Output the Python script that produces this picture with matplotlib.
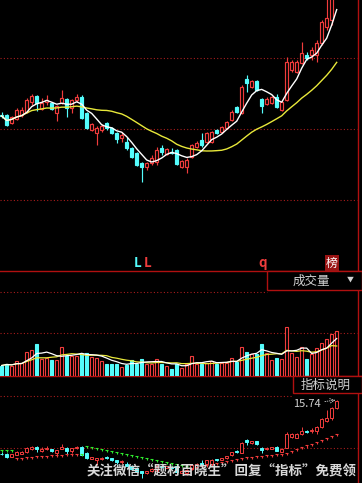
import matplotlib
matplotlib.use('Agg')
import matplotlib.pyplot as plt
import numpy as np
import pandas as pd
from matplotlib.patches import Rectangle

plt.rcParams['font.family'] = ['Noto Sans CJK SC', 'DejaVu Sans']

# daily candles
opens = [18.5, 18.5, 17.7, 18.1, 18.5, 18.8, 19.8, 20.4, 19.1, 19.8,
         19.7, 18.7, 19.7, 20.1, 19.2, 20.0, 20.3, 18.7, 17.0, 16.7,
         17.0, 17.7, 17.2, 16.7, 16.2, 15.8, 15.2, 14.7, 13.7, 13.3,
         13.7, 13.8, 15.2, 14.6, 14.8, 15.0, 13.3, 13.3, 14.3, 15.3,
         16.0, 15.8, 15.8, 17.0, 16.8, 17.2, 18.0, 19.3, 18.7, 22.1,
         21.3, 21.9, 20.1, 19.6, 19.7, 20.3, 19.0, 20.0, 23.0, 22.8,
         23.7, 24.5, 24.5, 24.5, 25.7, 27.3, 28.0, 30.8]
closes = [18.4, 17.5, 18.3, 19.0, 19.0, 20.0, 20.4, 19.7, 19.7, 20.0,
          19.1, 19.4, 20.2, 19.2, 20.0, 20.3, 18.2, 17.2, 17.6, 17.2,
          17.4, 17.2, 16.7, 16.1, 16.5, 15.2, 14.3, 13.5, 13.3, 13.7,
          14.2, 15.0, 14.8, 15.1, 14.7, 13.6, 13.9, 14.0, 15.5, 15.7,
          15.5, 16.7, 16.8, 16.7, 17.3, 17.8, 18.8, 18.8, 21.3, 21.7,
          21.9, 21.0, 19.4, 20.1, 20.3, 19.3, 19.8, 23.8, 23.8, 23.8,
          24.7, 24.2, 25.0, 25.7, 27.8, 28.2, 30.8, 32.7]
highs = [18.8, 18.6, 18.4, 19.2, 19.3, 20.2, 20.6, 20.5, 20.2, 20.5,
         19.8, 19.5, 21.0, 20.2, 20.1, 20.6, 20.5, 18.8, 17.7, 17.4,
         17.6, 17.8, 17.3, 16.8, 16.8, 16.3, 15.3, 14.8, 13.8, 13.8,
         14.5, 15.3, 15.5, 15.2, 15.2, 15.1, 14.0, 14.2, 15.6, 15.9,
         16.7, 16.8, 16.9, 17.1, 17.4, 17.9, 19.0, 19.4, 21.5, 22.5,
         22.0, 22.0, 20.2, 20.3, 20.4, 20.6, 20.0, 24.3, 24.0, 24.0,
         25.8, 24.8, 25.3, 26.0, 28.0, 30.2, 31.0, 33.0]
lows = [18.2, 17.4, 17.6, 18.0, 18.3, 18.7, 19.5, 18.9, 19.0, 19.5,
        19.0, 17.9, 19.6, 18.3, 18.7, 19.8, 18.1, 17.1, 16.9, 15.5,
        16.8, 17.0, 16.6, 15.7, 15.8, 15.0, 14.2, 13.4, 11.8, 13.0,
        13.5, 13.5, 14.5, 14.5, 14.6, 13.5, 13.2, 12.7, 14.2, 15.2,
        15.3, 15.7, 15.7, 16.6, 16.7, 17.1, 17.9, 18.7, 18.6, 20.8,
        21.2, 20.9, 18.7, 19.5, 19.6, 19.2, 18.9, 19.9, 22.8, 22.7,
        23.6, 24.0, 24.0, 23.8, 25.5, 27.0, 27.5, 30.5]
volumes = [10, 12, 10, 15, 13, 24, 26, 32, 17, 18,
           16, 16, 29, 20, 20, 20, 22, 23, 19, 18,
           15, 12, 12, 12, 9, 11, 16, 12, 17, 12,
           12, 17, 12, 10, 7, 12, 8, 12, 20, 12,
           12, 13, 15, 12, 13, 13, 18, 14, 29, 24,
           22, 22, 32, 23, 16, 18, 17, 49, 23, 19,
           29, 17, 22, 28, 33, 37, 42, 45]
# trailing stop of the lower indicator
stops = [19.46, 19.46, 19.46,
         17.30, 17.43, 17.57, 17.70, 17.84, 17.84, 17.97, 18.11, 18.11, 18.24,
         18.38, 18.38, 18.51, 18.51,
         20.54, 20.27, 20.00, 19.73, 19.46, 19.19, 18.92, 18.65, 18.38, 18.11,
         17.84, 17.57, 17.30, 17.03, 16.76, 16.49, 16.22, 15.95, 15.68, 15.41,
         15.14,
         14.59, 14.86, 15.14, 15.41, 15.68, 15.95, 16.22, 16.49, 16.76, 17.03,
         17.30, 17.57, 17.70, 17.84, 17.97, 18.11, 18.24, 18.38, 18.51, 18.65,
         19.19, 19.73, 20.27, 20.68, 21.08, 21.62, 22.16, 22.70, 23.24, 23.78]
max_label = '15.74'

RED = '#f03c3c'
CYAN = '#54fcfc'
GRID = '#a81c1c'
LINE = '#b01010'
TXT = '#d2d2d2'

W, H = 362, 483
fig = plt.figure(figsize=(W / 100, H / 100), dpi=100, facecolor='black')


def px_axes(top, bottom, left=0, right=357.7):
    ax = fig.add_axes([left / W, 1 - bottom / H, (right - left) / W, (bottom - top) / H])
    ax.set_facecolor('none')
    ax.axis('off')
    ax.set_xlim(-0.34, 71.2)
    return ax


# background: grid lines and frames
bg = fig.add_axes([0, 0, 1, 1])
bg.set_facecolor('black')
bg.axis('off')
bg.set_xlim(0, W)
bg.set_ylim(H, 0)
for y, x1 in [(58, 357), (129, 357), (200, 357), (292, 267), (333, 357), (396, 293), (448, 357)]:
    bg.plot([0, x1], [y, y], color=GRID, lw=0.8, ls=(0, (1, 2)))
for y in [271, 376]:
    bg.plot([0, W], [y, y], color=LINE, lw=1.0)
bg.plot([357.7, 357.7], [0, H], color=LINE, lw=1.0)

o = np.array(opens)
c = np.array(closes)
h = np.array(highs)
l = np.array(lows)
v = np.array(volumes)
x = np.arange(len(o))
up = c >= o
col = np.where(up, RED, CYAN)


def candles(ax, width, lw):
    ax.vlines(x, l, h, colors=col, lw=lw, zorder=1)
    body = np.maximum(np.abs(c - o), 0.08)
    ax.bar(x, body, width, bottom=np.minimum(o, c),
           color=np.where(up, 'black', CYAN), edgecolor=col, lw=lw, zorder=2)


# price panel
ax = px_axes(0, 271)
ax.set_ylim(2.9, 30)
candles(ax, 0.62, 0.85)
ma5 = pd.Series(c).rolling(5, min_periods=1).mean()
ma20 = pd.Series(c).rolling(20, min_periods=1).mean()
ax.plot(x, ma20, color='#e8e83a', lw=1.0, zorder=3)
ax.plot(x, ma5, color='white', lw=1.0, zorder=4)

# volume panel
axv = px_axes(292, 375.5)
axv.set_ylim(0, 83.5)
axv.bar(x, v, 0.6, color=np.where(up, 'black', CYAN), edgecolor=col, lw=0.8)
axv.plot(x, pd.Series(v).rolling(10, min_periods=1).mean(), color='#e8e83a', lw=0.9)
axv.plot(x, pd.Series(v).rolling(5, min_periods=1).mean(), color='white', lw=0.9)

# indicator panel
axi = px_axes(376, 483)
axi.set_ylim(10.54, 39.46)
candles(axi, 0.5, 0.7)
s = np.array(stops)
scol = np.where(s < c, RED, '#2ee82e')
axi.scatter(x, s, marker='_', s=6, c=scol, lw=0.8, zorder=3)
axi.scatter(x, s, marker=3, s=3, c=scol, lw=0.8, zorder=3)

# overlay texts
ov = fig.add_axes([0, 0, 1, 1])
ov.set_facecolor('none')
ov.axis('off')
ov.set_xlim(0, W)
ov.set_ylim(H, 0)
ov.text(134, 263, 'L', color=CYAN, fontsize=9.5, fontweight='bold', va='center', ha='left')
ov.text(143.5, 263, 'L', color=RED, fontsize=9.5, fontweight='bold', va='center', ha='left')
ov.text(258, 263, 'q', color=RED, fontsize=9.5, fontweight='bold', va='center', ha='left')
ov.text(332, 263, '榜', color='white', fontsize=8.5, va='center', ha='center',
        bbox=dict(boxstyle='square,pad=0.1', fc='#9a1414', ec='none'))
ov.add_patch(Rectangle((267, 271), 95, 19, fc='black', ec=LINE, lw=1.0))
ov.text(311, 281, '成交量', color=TXT, fontsize=9, va='center', ha='center')
ov.text(350, 280, '▼', color=TXT, fontsize=5, va='center', ha='center')
ov.add_patch(Rectangle((293, 376), 69, 17, fc='black', ec=LINE, lw=1.0))
ov.text(326, 385, '指标说明', color=TXT, fontsize=9, va='center', ha='center')
axi.annotate(max_label, xy=(x[-1], h[-1]), xytext=(293, 404), textcoords=ov.transData,
             color=TXT, fontsize=8, va='center', ha='left',
             arrowprops=dict(arrowstyle='->', color=TXT, lw=0.6, ls=':',
                             shrinkA=1, shrinkB=1))
ov.text(87, 471, '关注微信“题材百晓生”回复“指标”免费领', color='#d8d8d8', fontsize=9.7,
        fontweight='bold', va='center', ha='left')

fig.savefig('out.png', dpi=100, facecolor='black')
